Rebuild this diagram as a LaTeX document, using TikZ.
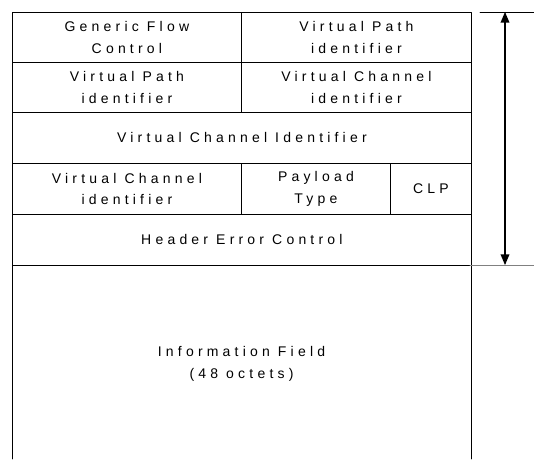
\documentclass[tikz,border=0pt]{standalone}
\usepackage{fontspec}
\usepackage{tikz}
\usetikzlibrary{arrows}
\newfontfamily\cellfont{Liberation Sans}[LetterSpace=30]
\tikzset{field/.style={draw,line width=0.8pt,inner sep=0pt,align=center,anchor=north west,
  font=\cellfont\fontsize{14}{21.5}\selectfont}}

\begin{document}
\begin{tikzpicture}[line cap=round,line join=round,>=triangle 45,x=1pt,y=1pt]
\useasboundingbox (0,0) rectangle (534,459);
\node[field,minimum width=229,minimum height=50] (gfc) at (12,447) {Generic Flow\\Control};
\node[field,minimum width=230,minimum height=50] (vpi1) at (241,447) {Virtual Path\\identifier};
\node[field,minimum width=229,minimum height=50] (vpi2) at (12,397) {Virtual Path\\identifier};
\node[field,minimum width=230,minimum height=50] (vci1) at (241,397) {Virtual Channel\\identifier};
\node[field,minimum width=459,minimum height=51] (vci2) at (12,347) {Virtual Channel Identifier};
\node[field,minimum width=229,minimum height=51] (vci3) at (12,296) {Virtual Channel\\identifier};
\node[field,minimum width=149,minimum height=51] (pt) at (241,296) {Payload\\Type};
\node[field,minimum width=81,minimum height=51] (clp) at (390,296) {CLP};
\node[field,minimum width=459,minimum height=51] (hec) at (12,245) {Header Error Control};
\node[field,draw=none,anchor=center] (info) at (241.5,95) {Information Field\\(48 octets)};
\draw [line width=0.8pt] (12,194)-- (12,0);
\draw [line width=0.8pt] (471,194)-- (471,0);
\coordinate (htop) at (505,447);
\coordinate (hbot) at (505,194);
\draw [line width=0.8pt] (480,447)-- (534,447);
\draw [line width=0.8pt,color=gray] (470,194)-- (534,194);
\draw [<->,line width=1.5pt] (htop)-- (hbot);
\end{tikzpicture}
\end{document}
